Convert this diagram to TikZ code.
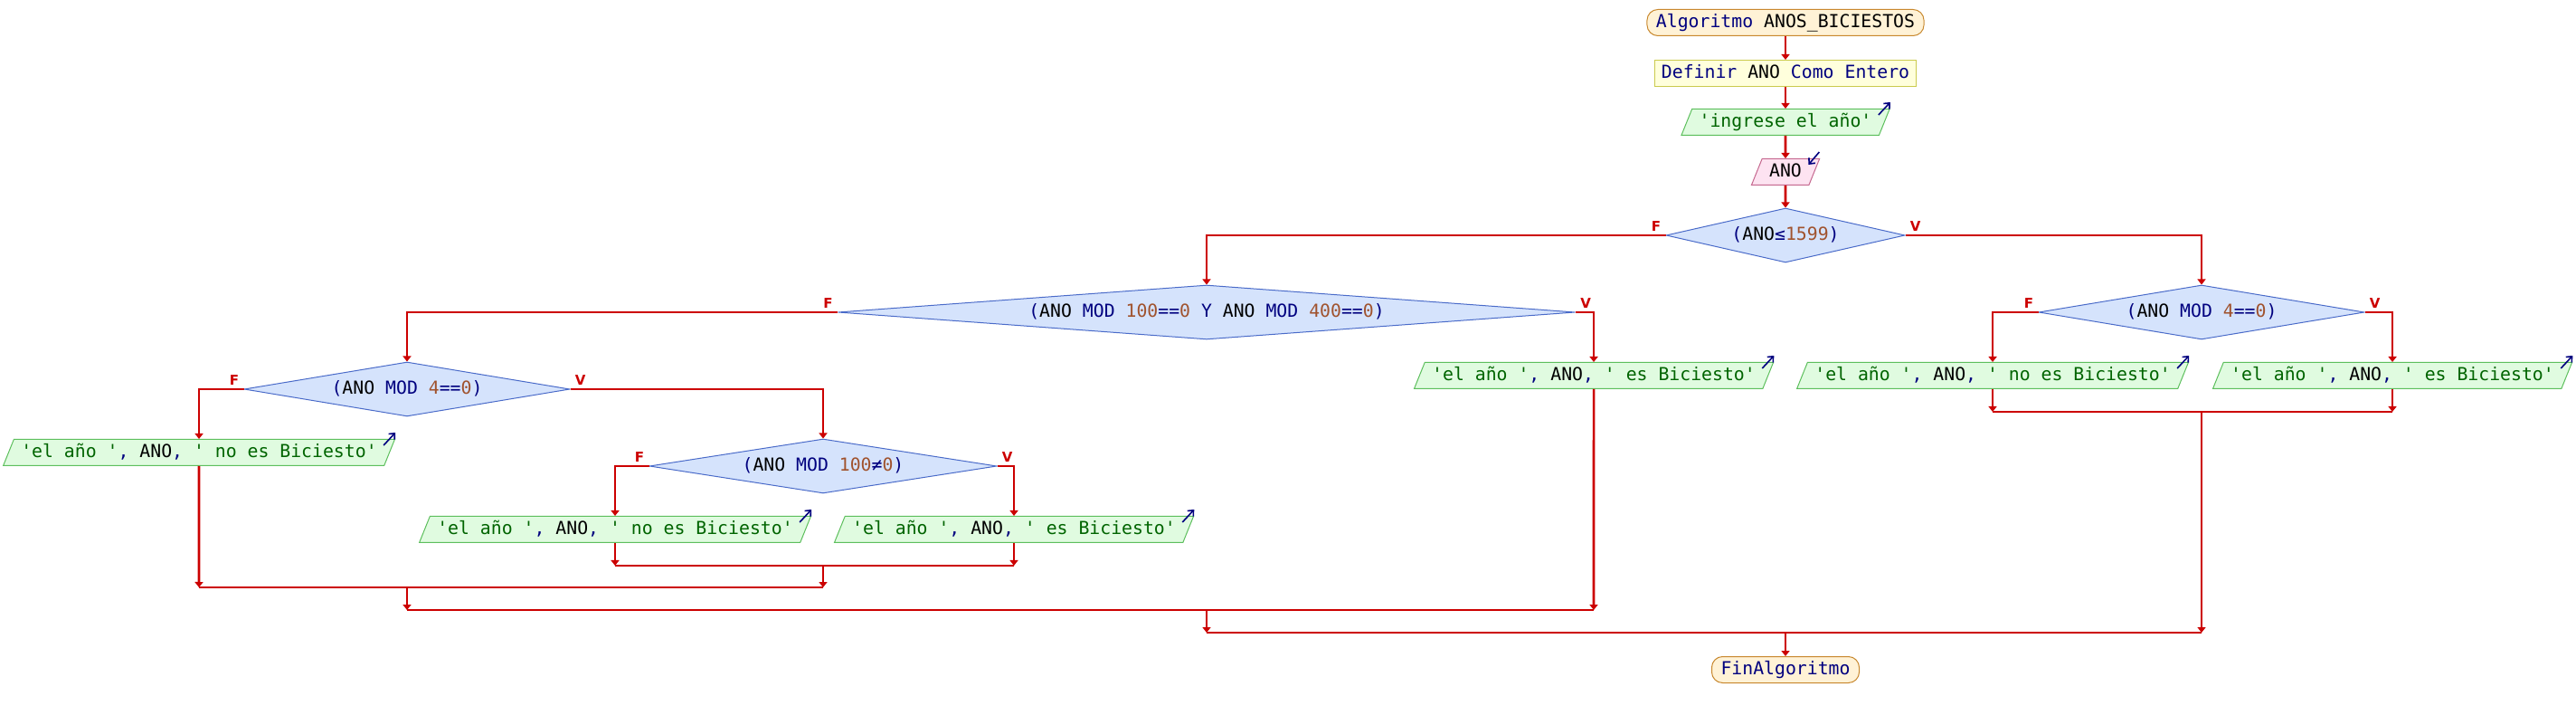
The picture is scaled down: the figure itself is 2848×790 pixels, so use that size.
\documentclass[tikz,border=0pt]{standalone}
\usepackage{fontspec}
\usetikzlibrary{shapes.geometric,arrows.meta,calc}

\newfontfamily\codefont{DejaVu Sans Mono}
\newfontfamily\markfont{DejaVu Sans}

\definecolor{flowred}{HTML}{CC0000}
\definecolor{kwblue}{HTML}{00007F}
\definecolor{strgreen}{HTML}{006400}
\definecolor{numbrown}{HTML}{A0522D}
\definecolor{condfill}{HTML}{D5E3FC}
\definecolor{conddraw}{HTML}{4A6BC9}
\definecolor{outfill}{HTML}{E0FBE0}
\definecolor{outdraw}{HTML}{5DBF5D}
\definecolor{infill}{HTML}{FDE3F1}
\definecolor{indraw}{HTML}{C5688F}
\definecolor{endfill}{HTML}{FFF2D6}
\definecolor{enddraw}{HTML}{C8882E}
\definecolor{deffill}{HTML}{FFFFDC}
\definecolor{defdraw}{HTML}{CBCB4E}

\newcommand{\pskw}[1]{\textcolor{kwblue}{#1}}
\newcommand{\psnum}[1]{\textcolor{numbrown}{#1}}
\newcommand{\psstr}[1]{\textcolor{strgreen}{#1}}

\tikzset{
  psbase/.style={font=\codefont\fontsize{9.9}{12}\selectfont, text height=7.5pt, text depth=2pt, inner ysep=2.5pt, line width=0.5pt},
  terminal/.style={psbase, rectangle, rounded corners=6pt, draw=enddraw, fill=endfill, inner xsep=5pt},
  decl/.style={psbase, rectangle, draw=defdraw, fill=deffill, inner xsep=3.5pt},
  output/.style={psbase, trapezium, trapezium left angle=68, trapezium right angle=112, draw=outdraw, fill=outfill, inner xsep=4pt},
  input/.style={output, draw=indraw, fill=infill},
  decision/.style 2 args={psbase, diamond, draw=conddraw, fill=condfill, inner sep=0pt, minimum height=30pt, minimum width=#1, aspect=#2},
  flow/.style={draw=flowred, line width=1.3pt, -{Triangle[length=3pt,width=4.5pt]}},
  merge/.style={draw=flowred, line width=1.3pt},
  branch/.style={text=flowred, font=\markfont\bfseries\fontsize{7.5}{9}\selectfont, inner sep=0pt},
  io/.style={draw=kwblue, line width=0.8pt, -{Straight Barb[length=2.5pt,width=4.5pt]}},
}

\begin{document}
\begin{tikzpicture}[x=0.5pt, y=-0.5pt]
    \useasboundingbox (0,0) rectangle (2848,790);

    % secuencia inicial
    \node[terminal](alg)at(1974,25){\pskw{Algoritmo} ANOS\_BICIESTOS};
    \node[decl](def)at(1974,81){\pskw{Definir} ANO \pskw{Como Entero}};
    \node[output](msg)at(1974,135){\psstr{'ingrese el año'}};
    \node[input](leer)at(1974,190){ANO};

    % condiciones
    \node[decision={132pt}{4.4}](c1)at(1974,260){\pskw{(}ANO\pskw{≤}\psnum{1599}\pskw{)}};
    \node[decision={407.5pt}{13.6}](c2)at(1334,345){\pskw{(}ANO \pskw{MOD} \psnum{100}\pskw{==}\psnum{0} \pskw{Y} ANO \pskw{MOD} \psnum{400}\pskw{==}\psnum{0}\pskw{)}};
    \node[decision={180pt}{6}](c3)at(450,430){\pskw{(}ANO \pskw{MOD} \psnum{4}\pskw{==}\psnum{0}\pskw{)}};
    \node[decision={192pt}{6.4}](c5)at(910,515){\pskw{(}ANO \pskw{MOD} \psnum{100}\pskw{≠}\psnum{0}\pskw{)}};
    \node[decision={180pt}{6}](c4)at(2434,345){\pskw{(}ANO \pskw{MOD} \psnum{4}\pskw{==}\psnum{0}\pskw{)}};

    % salidas
    \node[output](o1)at(220,500){\psstr{'el año '}\pskw{,} ANO\pskw{,} \psstr{' no es Biciesto'}};
    \node[output](o2)at(680,585){\psstr{'el año '}\pskw{,} ANO\pskw{,} \psstr{' no es Biciesto'}};
    \node[output](o3)at(1121,585){\psstr{'el año '}\pskw{,} ANO\pskw{,} \psstr{' es Biciesto'}};
    \node[output](o4)at(1762,415){\psstr{'el año '}\pskw{,} ANO\pskw{,} \psstr{' es Biciesto'}};
    \node[output](o5)at(2203,415){\psstr{'el año '}\pskw{,} ANO\pskw{,} \psstr{' no es Biciesto'}};
    \node[output](o6)at(2645,415){\psstr{'el año '}\pskw{,} ANO\pskw{,} \psstr{' es Biciesto'}};

    \node[terminal](fin)at(1974,740){\pskw{FinAlgoritmo}};

    % marcas de lectura / escritura
    \path[io]([shift={(-13,7)}]msg.top right corner)to([shift={(0,-7)}]msg.top right corner);
    \path[io]([shift={(-1,-7)}]leer.top right corner)to([shift={(-13,7)}]leer.top right corner);
    \path[io]([shift={(-13,7)}]o1.top right corner)to([shift={(0,-7)}]o1.top right corner);
    \path[io]([shift={(-13,7)}]o2.top right corner)to([shift={(0,-7)}]o2.top right corner);
    \path[io]([shift={(-13,7)}]o3.top right corner)to([shift={(0,-7)}]o3.top right corner);
    \path[io]([shift={(-13,7)}]o4.top right corner)to([shift={(0,-7)}]o4.top right corner);
    \path[io]([shift={(-13,7)}]o5.top right corner)to([shift={(0,-7)}]o5.top right corner);
    \path[io]([shift={(-13,7)}]o6.top right corner)to([shift={(0,-7)}]o6.top right corner);

    % flujo principal
    \path[flow](alg)to(def);
    \path[flow](def)to(msg);
    \path[flow](msg)to(leer);
    \path[flow](leer)to(c1);

    % ramas
    \path[flow](c1.west)-|(c2.north);
    \path[flow](c1.east)-|(c4.north);
    \path[flow](c2.west)-|(c3.north);
    \path[flow](c2.east)-|(o4.north);
    \path[flow](c3.west)-|(o1.north);
    \path[flow](c3.east)-|(c5.north);
    \path[flow](c5.west)-|(o2.north);
    \path[flow](c5.east)-|(o3.north);
    \path[flow](c4.west)-|(o5.north);
    \path[flow](c4.east)-|(o6.north);

    % etiquetas F / V
    \node[branch, anchor=south east](c1f)at([xshift=-2.5pt,yshift=2pt]c1.west){F};
    \node[branch, anchor=south west](c1v)at([xshift=2.5pt,yshift=2pt]c1.east){V};
    \node[branch, anchor=south east](c2f)at([xshift=-2.5pt,yshift=2pt]c2.west){F};
    \node[branch, anchor=south west](c2v)at([xshift=2.5pt,yshift=2pt]c2.east){V};
    \node[branch, anchor=south east](c3f)at([xshift=-2.5pt,yshift=2pt]c3.west){F};
    \node[branch, anchor=south west](c3v)at([xshift=2.5pt,yshift=2pt]c3.east){V};
    \node[branch, anchor=south east](c4f)at([xshift=-2.5pt,yshift=2pt]c4.west){F};
    \node[branch, anchor=south west](c4v)at([xshift=2.5pt,yshift=2pt]c4.east){V};
    \node[branch, anchor=south east](c5f)at([xshift=-2.5pt,yshift=2pt]c5.west){F};
    \node[branch, anchor=south west](c5v)at([xshift=2.5pt,yshift=2pt]c5.east){V};

    % puntos de union
    \coordinate(j5)at(910,625);
    \coordinate(j3)at(450,649);
    \coordinate(j2)at(1334,674);
    \coordinate(j4)at(2434,455);
    \coordinate(j1)at(1974,699);

    % union de c5
    \path[flow](o2)to(o2|-j5);
    \path[flow](o3)to(o3|-j5);
    \path[merge](o2|-j5)to(o3|-j5);
    % union de c3
    \path[flow](o1)to(o1|-j3);
    \path[flow](j5)to(j5|-j3);
    \path[merge](o1|-j3)to(j5|-j3);
    % union de c2
    \path[flow](j3)to(j3|-j2);
    \path[flow](o4)to(o4|-j2);
    \path[merge](j3|-j2)to(o4|-j2);
    % union de c4
    \path[flow](o5)to(o5|-j4);
    \path[flow](o6)to(o6|-j4);
    \path[merge](o5|-j4)to(o6|-j4);
    % union de c1
    \path[flow](j2)to(j2|-j1);
    \path[flow](j4)to(j4|-j1);
    \path[merge](j2|-j1)to(j4|-j1);
    \path[flow](j1)to(fin);
\end{tikzpicture}
\end{document}
